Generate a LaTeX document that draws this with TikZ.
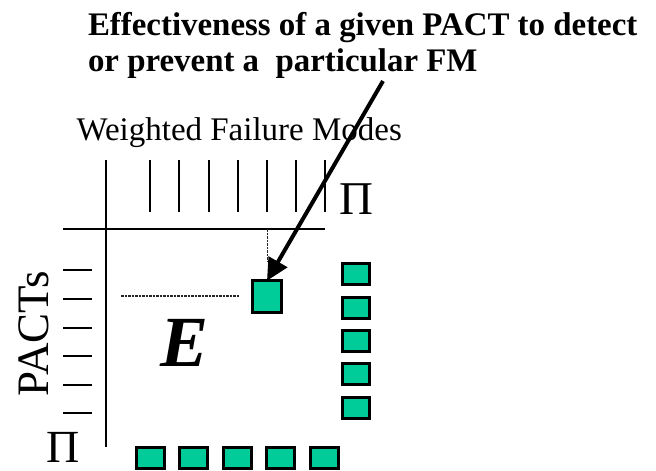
\documentclass[tikz,border=0pt]{standalone}
\usepackage{fontspec}
\setmainfont{Liberation Serif}
\usetikzlibrary{arrows.meta}
\definecolor{cellfill}{RGB}{0,204,153}
\tikzset{
  axisline/.style={line width=2pt, black},
  tickline/.style={line width=2pt, black},
  guideline/.style={line width=1.5pt, black!85, dash pattern=on 2.5pt off 1pt},
  cell/.style={draw=black, fill=cellfill, line width=3pt, inner sep=0pt, outer sep=0pt,
               minimum width=27pt, minimum height=21pt},
  hicell/.style={cell, minimum width=28.5pt, minimum height=31.5pt},
  label/.style={inner sep=0pt, outer sep=0pt, anchor=base west},
  pointer/.style={line width=4pt, -{Triangle[length=22pt,width=21pt]}}
}
\begin{document}
\begin{tikzpicture}[x=1pt,y=-1pt]
\useasboundingbox (0,0) rectangle (656,471);

% caption
\node[label, font=\fontsize{32.9}{36.5}\selectfont\bfseries] (cap1) at (88,35)
  {Effectiveness of a given PACT to detect};
\node[label, font=\fontsize{32.9}{36.5}\selectfont\bfseries] (cap2) at (88,71.5)
  {or prevent a\ \ particular FM};

% axis titles
\node[label, font=\fontsize{33}{36}\selectfont] (wfm) at (76.5,140) {Weighted Failure Modes};
\node[label, font=\fontsize{45}{50}\selectfont, rotate=90] (pacts) at (48.3,396.7) {PACTs};
\node[label, font=\fontsize{47}{50}\selectfont] (pitop) at (339,214) {Π};
\node[label, font=\fontsize{46}{50}\selectfont, text depth=0pt] (pileft) at (46,462) {Π};

% matrix axes
\draw[axisline] (105.5,160) -- (105.5,447);
\draw[axisline] (63,229) -- (325,229);

% failure-mode ticks
\foreach \x in {150,178.5,209,238,267.3,296,325}
  \draw[tickline] (\x,160) -- (\x,212);

% PACT ticks
\foreach \y in {270,299,327.5,356,384.5,413}
  \draw[tickline] (63,\y) -- (92,\y);

% effectiveness matrix symbol
\node[label, font=\fontsize{72}{80}\selectfont\bfseries\itshape] (emat) at (160,366.7) {E};

% highlighted cell with its guide lines
\node[hicell] (hl) at (267,296.5) {};
\coordinate (vtop) at (267.5,229);
\coordinate (vbot) at (267.5,262);
\coordinate (hleft) at (121,296);
\coordinate (hright) at (239,296);
\draw[guideline] (vtop) -- (vbot);
\draw[guideline] (hleft) -- (hright);

% column of row weights
\foreach \i/\y in {1/273.7,2/308,3/341,4/374.3,5/408.3}
  \node[cell] (r\i) at (355.7,\y) {};

% row of column weights
\foreach \i/\x in {1/150.3,2/193.8,3/237.5,4/280.8,5/324.7}
  \node[cell, minimum width=28pt] (c\i) at (\x,457.5) {};

% pointer from the caption to the highlighted cell
\coordinate (ptail) at (383,81);
\draw[pointer] (ptail) -- (hl.north);
\end{tikzpicture}
\end{document}
